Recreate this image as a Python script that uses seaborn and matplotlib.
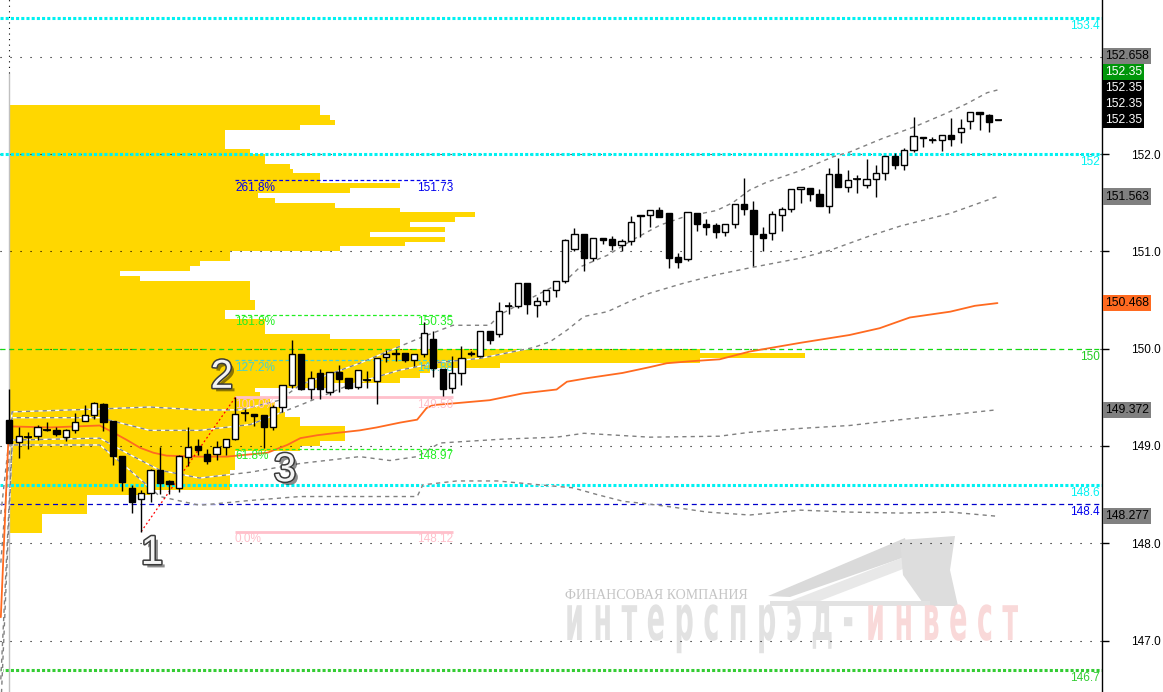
import numpy as np
import matplotlib
matplotlib.use("Agg")
import matplotlib.pyplot as plt
import seaborn as sns
import matplotlib.patheffects as pe
from matplotlib.patheffects import AbstractPathEffect
from matplotlib.transforms import blended_transform_factory, Affine2D
from matplotlib.patches import Polygon

# ---------------- data ----------------
opens = [149.27, 149.04, 149.09, 149.10, 149.16, 149.16, 149.09, 149.16, 149.26, 149.32,
         149.43, 149.26, 148.90, 148.57, 148.45, 148.52, 148.75, 148.64, 148.57, 148.89,
         149.00, 148.92, 148.92, 148.99, 149.07, 149.34, 149.33, 149.32, 149.19, 149.40,
         149.63, 149.94, 149.59, 149.75, 149.55, 149.76, 149.70, 149.61, 149.68, 149.67,
         149.91, 149.94, 149.95, 149.88, 149.94, 150.10, 149.79, 149.60, 149.75, 149.94,
         149.92, 150.18, 150.15, 150.44, 150.44, 150.67, 150.45, 150.49, 150.60, 150.69,
         151.02, 151.18, 150.93, 151.14, 151.13, 151.06, 151.11, 151.37, 151.37, 151.42,
         151.39, 150.94, 150.92, 151.39, 151.28, 151.27, 151.20, 151.28, 151.49, 151.42,
         151.18, 151.19, 151.37, 151.43, 151.64, 151.65, 151.59, 151.47, 151.79, 151.66,
         151.74, 151.68, 151.74, 151.80, 151.98, 151.89, 152.04, 152.18, 152.14, 152.14,
         152.20, 152.23, 152.34, 152.43, 152.40, 152.35]
highs = [149.58, 149.19, 149.14, 149.21, 149.25, 149.19, 149.17, 149.34, 149.42, 149.45,
         149.44, 149.26, 148.90, 148.60, 148.55, 148.76, 148.99, 148.65, 148.91, 149.19,
         149.07, 148.97, 149.05, 149.07, 149.50, 149.38, 149.33, 149.32, 149.42, 149.63,
         150.09, 149.94, 149.77, 149.79, 149.76, 149.83, 149.70, 149.78, 149.77, 149.90,
         149.99, 150.00, 149.96, 149.94, 150.27, 150.18, 149.79, 149.92, 150.03, 149.98,
         150.18, 150.18, 150.48, 150.48, 150.67, 150.67, 150.53, 150.60, 150.69, 151.13,
         151.24, 151.18, 151.14, 151.14, 151.16, 151.13, 151.36, 151.37, 151.42, 151.46,
         151.39, 150.98, 151.40, 151.39, 151.33, 151.29, 151.28, 151.49, 151.75, 151.52,
         151.25, 151.41, 151.46, 151.64, 151.66, 151.65, 151.64, 151.86, 151.96, 151.84,
         151.78, 151.95, 151.89, 151.98, 152.01, 152.06, 152.38, 152.18, 152.18, 152.20,
         152.37, 152.36, 152.43, 152.43, 152.41, 152.35]
lows = [149.03, 148.88, 148.97, 149.06, 149.15, 149.10, 149.05, 149.13, 149.26, 149.28,
        149.15, 148.80, 148.54, 148.31, 148.12, 148.42, 148.51, 148.51, 148.53, 148.79,
        148.91, 148.81, 148.86, 148.91, 149.06, 149.26, 149.20, 148.98, 149.16, 149.35,
        149.60, 149.57, 149.48, 149.48, 149.52, 149.55, 149.58, 149.58, 149.60, 149.43,
        149.86, 149.87, 149.86, 149.82, 149.91, 149.71, 149.51, 149.54, 149.63, 149.92,
        149.91, 150.05, 150.12, 150.36, 150.42, 150.36, 150.33, 150.45, 150.53, 150.67,
        151.00, 150.80, 150.90, 151.08, 151.01, 151.00, 151.06, 151.15, 151.25, 151.35,
        150.83, 150.83, 150.90, 151.21, 151.17, 151.14, 151.16, 151.24, 151.37, 150.85,
        151.00, 151.12, 151.21, 151.40, 151.50, 151.52, 151.47, 151.39, 151.66, 151.61,
        151.60, 151.65, 151.56, 151.73, 151.85, 151.84, 152.02, 152.07, 152.11, 152.03,
        152.08, 152.11, 152.26, 152.25, 152.23, 152.35]
closes = [149.03, 149.10, 149.09, 149.19, 149.16, 149.12, 149.16, 149.25, 149.32, 149.44,
          149.25, 148.90, 148.63, 148.42, 148.52, 148.75, 148.62, 148.61, 148.90, 148.99,
          148.96, 148.85, 148.99, 149.07, 149.33, 149.34, 149.31, 149.19, 149.40, 149.63,
          149.94, 149.59, 149.70, 149.59, 149.76, 149.69, 149.60, 149.78, 149.68, 149.90,
          149.94, 149.96, 149.88, 149.94, 150.16, 149.80, 149.59, 149.75, 149.90, 149.96,
          150.18, 150.09, 150.39, 150.44, 150.67, 150.46, 150.49, 150.60, 150.69, 151.12,
          151.18, 150.93, 151.14, 151.12, 151.06, 151.11, 151.30, 151.36, 151.42, 151.35,
          150.93, 150.89, 151.40, 151.28, 151.25, 151.20, 151.28, 151.49, 151.43, 151.18,
          151.14, 151.38, 151.43, 151.64, 151.66, 151.59, 151.47, 151.79, 151.66, 151.73,
          151.74, 151.74, 151.80, 151.98, 151.89, 152.04, 152.19, 152.16, 152.14, 152.20,
          152.15, 152.27, 152.43, 152.41, 152.33, 152.35]

# moving average (orange) read at bar positions
ma_x = [-0.9, -0.1, 0.3, 4.3, 9.6, 11.0, 12.5, 13.9, 15.3, 16.7, 20.2, 23.1, 25.2, 27.4, 29.5,
        30.9, 32.7, 34.4, 37.2, 39.0, 41.5, 43.3, 44.3, 45.0, 47.5, 51.0, 54.5, 58.1, 59.2,
        61.6, 65.1, 68.0, 69.8, 72.3, 75.4, 78.6, 84.0, 89.2, 92.4, 95.6, 99.9, 102.5, 104.9]
ma_y = [147.24, 149.06, 149.20, 149.19, 149.21, 149.14, 149.06, 148.98, 148.93, 148.90,
        148.89, 148.89, 148.91, 148.93, 149.01, 149.08, 149.11, 149.13, 149.16, 149.19,
        149.24, 149.27, 149.39, 149.42, 149.44, 149.47, 149.54, 149.58, 149.66, 149.70,
        149.75, 149.81, 149.85, 149.87, 149.89, 149.97, 150.06, 150.14, 150.21, 150.32,
        150.38, 150.44, 150.468]

# envelope / band lines (grey dashed)
u2_x = [-0.9, 0.3, 9.6, 14.9, 20.2, 24.5, 28.7, 30.9, 37.2, 43.6, 47.1, 51.0, 52.1, 55.6,
        59.2, 60.6, 63.5, 66.2, 69.1, 71.5, 75.1, 76.8, 78.6, 80.4, 84.0, 87.4, 89.2, 92.7,
        96.1, 99.5, 101.7, 103.8, 104.9]
u2_y = [148.30, 149.35, 149.38, 149.40, 149.37, 149.37, 149.47, 149.63, 149.85, 150.11,
        150.24, 150.24, 150.35, 150.53, 150.71, 150.84, 150.96, 151.12, 151.27, 151.35,
        151.42, 151.50, 151.63, 151.71, 151.83, 151.97, 152.02, 152.16, 152.28, 152.42,
        152.52, 152.63, 152.658]
u1_x = [-0.9, 0.3, 9.6, 14.9, 20.2, 25.6, 30.9, 36.2, 41.5, 45.7, 50.0, 55.6, 57.4, 59.2,
        61.0, 63.5, 66.2, 68.0, 71.5, 75.1, 78.6, 84.0, 87.1, 91.4, 94.6, 99.9, 104.9]
u1_y = [147.80, 149.29, 149.29, 149.16, 149.16, 149.22, 149.42, 149.63, 149.78, 149.86,
        149.90, 150.01, 150.07, 150.19, 150.33, 150.38, 150.50, 150.57, 150.67, 150.76,
        150.83, 150.93, 151.01, 151.16, 151.26, 151.39, 151.563]
l1_x = [-0.9, 0.3, 9.6, 12.8, 16.0, 20.2, 25.6, 30.9, 37.2, 40.4, 43.3, 45.7, 52.4, 58.1,
        61.0, 68.0, 75.4, 78.6, 84.0, 89.2, 94.6, 99.9, 104.9]
l1_y = [146.60, 149.06, 149.08, 148.91, 148.75, 148.67, 148.73, 148.82, 148.89, 148.85,
        148.89, 149.03, 149.07, 149.09, 149.13, 149.09, 149.10, 149.14, 149.18, 149.21,
        149.27, 149.32, 149.372]
l2_x = [-0.9, 0.3, 9.6, 12.8, 16.0, 20.2, 25.6, 30.9, 40.4, 43.3, 43.9, 47.5, 51.8, 56.3,
        59.8, 62.4, 65.2, 67.3, 70.5, 74.1, 78.6, 84.0, 89.2, 94.6, 99.9, 104.9]
l2_y = [146.30, 149.01, 149.01, 148.75, 148.48, 148.39, 148.44, 148.48, 148.48, 148.48,
        148.60, 148.64, 148.64, 148.60, 148.57, 148.50, 148.43, 148.41, 148.37, 148.32,
        148.29, 148.34, 148.32, 148.31, 148.32, 148.277]

# volume profile: bins of 0.05 from 152.45 downwards, volume in arbitrary units
profile_volume = [310, 310, 320, 325, 290, 215, 215, 215, 215, 240,
                  255, 255, 280, 283, 310, 310, 390, 340, 248, 265,
                  325, 390, 465, 445, 400, 435, 360, 435, 395, 330,
                  220, 220, 190, 180, 110, 130, 240, 240, 240, 240,
                  245, 245, 215, 215, 255, 255, 255, 320, 390, 390,
                  690, 795, 690, 490, 420, 410, 390, 320, 245, 250,
                  260, 265, 270, 275, 290, 290, 335, 335, 335, 310,
                  290, 225, 225, 225, 225, 220, 220, 220, 220, 140,
                  77, 77, 77, 77, 32, 32, 32, 32]
profile_top_bin = 152.45
profile_bin = 0.05

# Fibonacci
fib_pct = ["0.0%", "61.8%", "100.0%", "127.2%", "161.8%", "261.8%"]
fib_price = [148.12, 148.97, 149.50, 149.88, 150.35, 151.73]
fib_low_idx, fib_high_idx = 14, 24

# horizontal levels
level_price = [153.4, 152.0, 150.0, 148.6, 148.4, 146.7]
level_text = ["153.4", "152", "150", "148.6", "148.4", "146.7"]

# price boxes on the right scale
box_value = [148.277, 149.372, 150.468, 151.563, 152.35, 152.35, 152.35, 152.35, 152.658]
box_text = ["148.277", "149.372", "150.468", "151.563", "152.35", "152.35", "152.35", "152.35", "152.658"]

y_ticks = [147, 148, 149, 150, 151, 152, 153]
# the 153.0 label sits behind the stacked price box, so it is left blank
y_tick_labels = ["147.0", "148.0", "149.0", "150.0", "151.0", "152.0", ""]

# ---------------- styling ----------------
sns.set_style("white")
plt.rcParams['font.family'] = ['Liberation Sans', 'DejaVu Sans']

W, H = 1163, 692
AXW = 1102
fig = plt.figure(figsize=(W / 100, H / 100), dpi=100)
ax = fig.add_axes([0, 0, AXW / W, 1])
ax.set_xlim(-0.987, 116.0)
ax.set_ylim(146.471, 153.583)

for s in ['left', 'top', 'bottom']:
    ax.spines[s].set_visible(False)
ax.spines['right'].set_color('black')
ax.spines['right'].set_linewidth(1.0)
ax.set_xticks([])
ax.yaxis.tick_right()
ax.set_yticks(y_ticks)
ax.set_yticklabels(y_tick_labels)
ax.tick_params(axis='y', direction='out', length=5, width=1, pad=16, labelsize=8.5, colors='black')

GOLD = '#FFD700'
CYAN = '#00F2F2'
ORANGE = '#FF6A20'
GREY = '#808080'

# volume profile
VOL_PER_BAR = 9.42
prof_prices = [round(profile_top_bin - profile_bin * k, 2) for k in range(len(profile_volume))]
ax.barh(prof_prices, [v / VOL_PER_BAR for v in profile_volume], left=0.07,
        height=profile_bin, align='edge', color=GOLD, linewidth=0, zorder=1)

# grid dotted lines
for t in y_ticks:
    ax.axhline(t, color='black', lw=0.8, linestyle=(0, (1, 8)), zorder=2)

# first bar separator
ax.vlines(0, 152.83, 153.6, color='black', lw=0.8, linestyle=(0, (1, 4)), zorder=2)
ax.vlines(0, 146.4, 152.83, color='#C0C0C0', lw=1.0, zorder=1.5)

# horizontal levels
lvl_style = [
    dict(color=CYAN, lw=2.2, linestyle=(0, (1, 0.7))),
    dict(color=CYAN, lw=2.2, linestyle=(0, (1, 0.7))),
    dict(color='#11DD11', lw=0.9, linestyle=(0, (4, 3))),
    dict(color=CYAN, lw=2.2, linestyle=(0, (1, 0.7))),
    dict(color='#0000CC', lw=0.9, linestyle=(0, (4, 3))),
    dict(color='#33CC33', lw=2.2, linestyle=(0, (1, 0.7))),
]
lvl_text_color = [CYAN, CYAN, '#22CC22', CYAN, '#0000EE', '#33CC33']
trans_r = blended_transform_factory(ax.transAxes, ax.transData)
for p, txt, st, tc in zip(level_price, level_text, lvl_style, lvl_text_color):
    ax.axhline(p, zorder=2.5, **st)
    ax.annotate(txt, xy=(0.998, p), xycoords=trans_r, xytext=(0, -1.5),
                textcoords='offset points', ha='right', va='top', color=tc,
                fontsize=8.5, zorder=2.6)

# band lines (dashed with white gaps, as on the terminal)
for bx, by in [(u2_x, u2_y), (u1_x, u1_y), (l1_x, l1_y), (l2_x, l2_y)]:
    sns.lineplot(x=bx, y=by, ax=ax, color='white', lw=1.0, zorder=3, estimator=None)
    sns.lineplot(x=bx, y=by, ax=ax, color=GREY, lw=1.0, linestyle=(0, (3, 3)),
                 zorder=3.1, estimator=None)

# moving average
sns.lineplot(x=ma_x, y=ma_y, ax=ax, color=ORANGE, lw=1.3, zorder=3.2, estimator=None)

# Fibonacci levels
fib_end = fib_high_idx + 23.1
fib_colors = ['pink', '#22EE22', 'pink', '#48D1CC', '#22EE22', '#0000EE']
fib_ls = ['-', (0, (3, 2)), '-', (0, (3, 2)), (0, (3, 2)), (0, (3, 2))]
fib_lw = [2.0, 0.9, 2.0, 0.9, 0.9, 0.9]
for p, pct, c, ls, lw in zip(fib_price, fib_pct, fib_colors, fib_ls, fib_lw):
    ax.hlines(p, fib_high_idx - 0.04, fib_end, color=c, linestyle=ls, lw=lw, zorder=3.5)
    ax.annotate(pct, xy=(fib_high_idx - 0.04, p), xytext=(0, -1), textcoords='offset points',
                ha='left', va='top', color=c, fontsize=8.5, zorder=3.6)
    ax.annotate(f"{p:.2f}", xy=(fib_end, p), xytext=(0, -1), textcoords='offset points',
                ha='right', va='top', color=c, fontsize=8.5, zorder=3.6)
ax.plot([fib_low_idx, fib_high_idx], [fib_price[0], fib_price[2]], color='red', lw=0.9,
        linestyle=(0, (1.5, 2)), zorder=3.7)

# candles
idx = np.arange(len(opens))
o = np.array(opens); c = np.array(closes); h = np.array(highs); l = np.array(lows)
ax.vlines(idx, l, h, color='black', lw=1.0, zorder=4)
bull = c >= o
body_bottom = np.minimum(o, c)
body_h = np.abs(c - o)
ax.bar(idx[bull], body_h[bull], bottom=body_bottom[bull], width=0.66, color='white',
       edgecolor='black', linewidth=1.0, zorder=4.5)
ax.bar(idx[~bull], body_h[~bull], bottom=body_bottom[~bull], width=0.66, color='black',
       edgecolor='black', linewidth=1.0, zorder=4.5)
doji = body_h < 0.005
ax.hlines(c[doji], idx[doji] - 0.4, idx[doji] + 0.4, color='black', lw=1.2, zorder=4.6)

# wave labels 1, 2, 3
wave_lbl = ["1", "2", "3"]
wave_pos = [(15.15, 147.90), (22.56, 149.71), (29.27, 148.75)]
for t, (wx, wy) in zip(wave_lbl, wave_pos):
    ax.text(wx, wy, t, fontsize=29, color='#F4F4F4', ha='center', va='center', zorder=6,
            family=['Liberation Sans', 'DejaVu Sans'],
            path_effects=[pe.SimplePatchShadow(offset=(2.5, -2.5), shadow_rgbFace='black', alpha=0.45),
                          pe.Stroke(linewidth=2.2, foreground='#3A3A3A'), pe.Normal()])

# price boxes on the scale (stacked upward when they overlap)
box_bg = ['#808080', '#808080', ORANGE, '#808080', '#000000', '#000000', '#000000', '#00960A', '#808080']
box_fg = ['black', 'black', 'black', 'black', 'white', 'white', 'white', 'white', 'black']
step = 16 / 97.3
prev = -1e9
for v, txt, bg, fg in zip(box_value, box_text, box_bg, box_fg):
    pos = max(v, prev + step)
    prev = pos
    ax.text(1.0025, pos, txt, transform=trans_r, ha='left', va='center', fontsize=8.7,
            color=fg, zorder=10, clip_on=False,
            bbox=dict(boxstyle='square,pad=0.18', facecolor=bg, edgecolor='none'))


# watermark (tall, narrow lettering: glyphs stretched vertically from the baseline)
class Stretch(AbstractPathEffect):
    def __init__(self, sy):
        super().__init__()
        self.sy = sy

    def draw_path(self, renderer, gc, tpath, affine, rgbFace=None):
        y0 = affine.get_matrix()[1, 2]
        a = affine + Affine2D().translate(0, -y0).scale(1, self.sy).translate(0, y0)
        renderer.draw_path(gc, tpath, a, rgbFace)


def axfr(px, py):
    return (px / AXW, 1 - py / H)

logo_polys = [
    ([(768, 596), (905, 538), (908, 556), (790, 597)], '#DADADA'),
    ([(785, 603), (935, 545), (937, 556), (812, 604)], '#E8E8E8'),
    ([(900, 540), (955, 536), (950, 570), (958, 606), (925, 606), (903, 575)], '#DDDDDD'),
    ([(770, 601), (930, 601), (930, 606), (770, 606)], '#E2E2E2'),
]
for pts, col in logo_polys:
    ax.add_patch(Polygon([axfr(*p) for p in pts], closed=True, transform=ax.transAxes,
                         facecolor=col, edgecolor='none', zorder=0.5))

ax.text(*axfr(565, 599), "ФИНАНСОВАЯ КОМПАНИЯ", transform=ax.transAxes, ha='left',
        va='baseline', fontsize=10, color='#C4C4C4', family=['Liberation Serif', 'DejaVu Serif'],
        zorder=0.6)
for px, txt, col in [(565, "и н т е р с п р э д -", '#E2E2E2'), (866, "и н в е с т", '#F9D9D9')]:
    ax.text(*axfr(px, 640), txt, transform=ax.transAxes, ha='left', va='baseline',
            fontsize=19.5, fontweight='bold', color=col, family=['DejaVu Sans'], zorder=0.6,
            path_effects=[Stretch(2.35)])

fig.savefig('out.png', dpi=100)
